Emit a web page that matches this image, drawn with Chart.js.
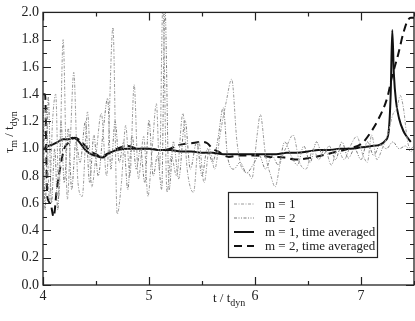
<!DOCTYPE html>
<html>
<head>
<meta charset="utf-8">
<script src="https://cdn.jsdelivr.net/npm/chart.js@4/dist/chart.umd.min.js"></script>
<style>
  html, body { margin: 0; padding: 0; background: #fff; }
  #wrap { width: 415px; height: 321px; }
</style>
</head>
<body>
<div id="wrap"><canvas id="tauchart"></canvas></div>
<script>
// values (t in units of t_dyn)
var tM1 = [4.00, 4.03, 4.06, 4.09, 4.12, 4.15, 4.19, 4.23, 4.26, 4.29, 4.33, 4.37, 4.42, 4.46, 4.50, 4.55, 4.60, 4.66, 4.70, 4.74,
  4.78, 4.82, 4.86, 4.90, 4.95, 4.99, 5.03, 5.07, 5.10, 5.13, 5.17, 5.21, 5.26, 5.32, 5.36, 5.42, 5.47, 5.52, 5.57, 5.62,
  5.67, 5.73, 5.78, 5.83, 5.88, 5.94, 5.97, 6.02, 6.05, 6.10, 6.15, 6.19, 6.24, 6.30, 6.36, 6.42, 6.48, 6.55, 6.60, 6.66,
  6.72, 6.78, 6.84, 6.90, 6.96, 7.02, 7.06, 7.10, 7.15, 7.20, 7.25, 7.30, 7.34, 7.37, 7.40, 7.44, 7.47, 7.50];
var vM1 = [0.80, 1.30, 0.62, 1.20, 1.40, 0.65, 1.80, 0.63, 1.10, 1.56, 0.75, 0.65, 1.27, 0.72, 0.95, 1.26, 0.80, 1.89, 0.52, 0.75,
  1.17, 0.80, 1.47, 0.78, 1.09, 0.65, 1.00, 1.33, 0.85, 2.05, 0.68, 0.95, 0.80, 1.26, 0.85, 0.68, 1.05, 0.75, 1.00, 0.85,
  1.10, 1.35, 1.51, 1.05, 0.85, 0.82, 0.78, 1.10, 1.25, 0.95, 0.80, 0.72, 0.90, 1.02, 1.10, 0.90, 0.85, 1.00, 0.92, 1.00,
  0.88, 1.00, 0.92, 1.02, 1.09, 0.95, 0.90, 1.10, 0.92, 1.00, 1.10, 1.25, 1.30, 1.39, 1.30, 1.05, 1.00, 1.02];

var tM2 = [4.00, 4.02, 4.05, 4.08, 4.11, 4.14, 4.17, 4.20, 4.24, 4.27, 4.31, 4.35, 4.40, 4.44, 4.48, 4.52, 4.57, 4.61, 4.64, 4.68,
  4.72, 4.76, 4.80, 4.84, 4.88, 4.92, 4.96, 5.00, 5.04, 5.08, 5.12, 5.15, 5.19, 5.23, 5.28, 5.34, 5.39, 5.45, 5.50, 5.55,
  5.60, 5.65, 5.70, 5.74, 5.80, 5.86, 5.92, 5.98, 6.04, 6.10, 6.16, 6.22, 6.28, 6.34, 6.40, 6.46, 6.52, 6.58, 6.64, 6.70,
  6.76, 6.82, 6.88, 6.94, 7.00, 7.06, 7.12, 7.18, 7.24, 7.30, 7.36, 7.42, 7.47, 7.50];
var vM2 = [1.35, 0.55, 1.38, 0.60, 1.00, 0.55, 1.20, 0.75, 1.15, 0.70, 1.05, 0.90, 1.20, 0.75, 1.10, 0.80, 1.15, 1.37, 0.85, 1.20,
  0.90, 1.05, 0.70, 1.10, 0.85, 1.00, 0.75, 1.21, 0.80, 0.95, 0.70, 2.05, 0.70, 1.05, 0.78, 1.21, 0.85, 1.05, 0.80, 1.00,
  0.90, 1.07, 1.30, 0.95, 0.85, 0.90, 0.82, 0.88, 0.95, 0.85, 0.95, 0.88, 1.05, 0.95, 0.88, 1.02, 0.90, 1.05, 0.95, 1.02,
  0.92, 1.05, 0.93, 1.00, 0.92, 1.05, 0.95, 1.03, 1.00, 1.05, 1.00, 1.02, 0.98, 1.00];

var tM1avg = [4.00, 4.05, 4.09, 4.14, 4.19, 4.24, 4.28, 4.33, 4.40, 4.45, 4.49, 4.56, 4.61, 4.66, 4.70, 4.80, 4.90, 5.00, 5.10, 5.20,
  5.30, 5.40, 5.50, 5.60, 5.70, 5.80, 5.90, 6.00, 6.10, 6.20, 6.30, 6.40, 6.50, 6.60, 6.70, 6.80, 6.90, 7.00, 7.10, 7.18,
  7.23, 7.26, 7.28, 7.295, 7.31, 7.33, 7.36, 7.40, 7.44, 7.47];
var vM1avg = [1.00, 1.02, 1.03, 1.05, 1.07, 1.07, 1.08, 1.06, 0.99, 0.96, 0.95, 0.935, 0.96, 0.98, 0.99, 1.00, 1.00, 1.00, 0.99, 0.99,
  0.98, 0.98, 0.97, 0.97, 0.96, 0.96, 0.96, 0.96, 0.96, 0.96, 0.97, 0.97, 0.98, 0.99, 0.99, 1.00, 1.00, 1.01, 1.02, 1.03,
  1.06, 1.12, 1.40, 1.87, 1.55, 1.35, 1.22, 1.13, 1.08, 1.05];

var tM2avg = [4.00, 4.02, 4.04, 4.07, 4.10, 4.13, 4.16, 4.20, 4.25, 4.30, 4.35, 4.40, 4.45, 4.50, 4.55, 4.60, 4.65, 4.70, 4.80, 4.90,
  5.00, 5.10, 5.20, 5.25, 5.30, 5.40, 5.50, 5.55, 5.60, 5.65, 5.75, 5.85, 6.00, 6.15, 6.28, 6.38, 6.50, 6.57, 6.73, 6.88,
  7.01, 7.10, 7.16, 7.25, 7.29, 7.35, 7.40, 7.44, 7.47, 7.50];
var vM2avg = [1.40, 1.40, 0.65, 0.60, 0.50, 0.70, 0.85, 1.00, 1.05, 1.08, 1.06, 1.02, 0.98, 0.96, 0.94, 0.96, 0.98, 1.00, 1.02, 1.00,
  1.00, 0.99, 1.00, 1.02, 1.03, 1.04, 1.05, 1.04, 1.00, 0.98, 0.94, 0.95, 0.95, 0.94, 0.935, 0.92, 0.93, 0.94, 0.97, 1.00,
  1.04, 1.13, 1.21, 1.38, 1.52, 1.69, 1.85, 1.94, 1.96, 1.96];

var yTicks = [0, 0.2, 0.4, 0.6, 0.8, 1.0, 1.2, 1.4, 1.6, 1.8, 2.0];
var xTicks = [4, 5, 6, 7];

function pts(ts, vs) {
  return ts.map((t, i) => ({x: t, y: vs[i]}));
}

const SERIF = '"Liberation Serif", "DejaVu Serif", serif';

// inward ticks on all four sides, frame, axis titles with subscripts, boxed legend
const decor = {
  id: 'decor',
  afterDraw(chart) {
    const ctx = chart.ctx;
    const a = chart.chartArea;
    const x = chart.scales.x, y = chart.scales.y;
    ctx.save();
    ctx.strokeStyle = '#222';
    ctx.lineWidth = 1.3;
    ctx.strokeRect(a.left, a.top, a.right - a.left, a.bottom - a.top);

    ctx.lineWidth = 1.2;
    ctx.beginPath();
    for (let i = 0; i <= 7; i++) {
      let v = 4 + i * 0.5;
      let px = Math.round(x.getPixelForValue(v)) + 0.5;
      let len = i % 2 == 0 ? 8 : 4;
      ctx.moveTo(px, a.bottom); ctx.lineTo(px, a.bottom - len);
      ctx.moveTo(px, a.top); ctx.lineTo(px, a.top + len);
    }
    for (let i = 0; i <= 20; i++) {
      let py = Math.round(y.getPixelForValue(i / 10)) + 0.5;
      let len = i % 2 == 0 ? 8 : 4;
      ctx.moveTo(a.left, py); ctx.lineTo(a.left + len, py);
      ctx.moveTo(a.right, py); ctx.lineTo(a.right - len, py);
    }
    ctx.stroke();

    // axis titles
    ctx.fillStyle = '#222';
    ctx.textBaseline = 'alphabetic';
    ctx.textAlign = 'left';
    ctx.font = '13px ' + SERIF;
    let s = 't / t';
    let w = ctx.measureText(s).width;
    ctx.fillText(s, 213, 302);
    ctx.font = '10px ' + SERIF;
    ctx.fillText('dyn', 213 + w, 306);

    ctx.save();
    ctx.translate(13, 153);
    ctx.rotate(-Math.PI / 2);
    ctx.font = '13px ' + SERIF;
    let cx = 0;
    ctx.fillText('\u03c4', cx, 0); cx += ctx.measureText('\u03c4').width;
    ctx.font = '10px ' + SERIF;
    ctx.fillText('m', cx, 4); cx += ctx.measureText('m').width;
    ctx.font = '13px ' + SERIF;
    ctx.fillText(' / t', cx, 0); cx += ctx.measureText(' / t').width;
    ctx.font = '10px ' + SERIF;
    ctx.fillText('dyn', cx, 4);
    ctx.restore();

    // legend box
    const bx = 228, by = 192, bw = 149, bh = 65;
    ctx.fillStyle = '#fff';
    ctx.fillRect(bx, by, bw, bh);
    ctx.strokeStyle = '#222';
    ctx.lineWidth = 1.2;
    ctx.strokeRect(bx + 0.5, by + 0.5, bw, bh);
    ctx.font = '13px ' + SERIF;
    ctx.textBaseline = 'middle';
    chart.data.datasets.forEach((ds, i) => {
      let ry = by + 12 + i * 14;
      ctx.strokeStyle = ds.borderColor;
      ctx.lineWidth = ds.borderWidth;
      ctx.setLineDash(ds.borderDash || []);
      ctx.beginPath();
      ctx.moveTo(234, ry); ctx.lineTo(254, ry);
      ctx.stroke();
      ctx.setLineDash([]);
      ctx.fillStyle = '#222';
      ctx.fillText(ds.label, 265, ry + 1);
    });
    ctx.restore();
  }
};

window.tauChart = new Chart(
  document.getElementById('tauchart'),
  {
    type: 'line',
    data: {
      datasets: [
        {
          label: 'm = 1',
          data: pts(tM1, vM1),
          borderColor: '#9a9a9a',
          borderWidth: 1,
          borderDash: [3, 1.5, 1, 1.5]
        },
        {
          label: 'm = 2',
          data: pts(tM2, vM2),
          borderColor: '#7a7a7a',
          borderWidth: 1,
          borderDash: [3, 1.5, 1, 1.5, 1, 1.5]
        },
        {
          label: 'm = 1, time averaged',
          data: pts(tM1avg, vM1avg),
          borderColor: '#111',
          borderWidth: 2
        },
        {
          label: 'm = 2, time averaged',
          data: pts(tM2avg, vM2avg),
          borderColor: '#111',
          borderWidth: 2,
          borderDash: [8, 5]
        }
      ]
    },
    options: {
      responsive: true,
      maintainAspectRatio: false,
      animation: false,
      devicePixelRatio: 1,
      layout: { padding: { top: 7, right: 1, left: 0, bottom: 0 } },
      elements: {
        point: { radius: 0 },
        line: { cubicInterpolationMode: 'monotone', fill: false }
      },
      plugins: {
        legend: { display: false },
        tooltip: { enabled: false }
      },
      scales: {
        x: {
          type: 'linear',
          min: 4,
          max: 7.5,
          afterBuildTicks: (s) => { s.ticks = xTicks.map(v => ({value: v})); },
          afterFit: (s) => { s.height = 36; },
          grid: { display: false, drawTicks: false },
          border: { display: false },
          ticks: {
            padding: 3,
            color: '#222',
            font: { family: SERIF, size: 14 },
            callback: (v) => String(v)
          }
        },
        y: {
          type: 'linear',
          min: 0,
          max: 2,
          afterBuildTicks: (s) => { s.ticks = yTicks.map(v => ({value: v})); },
          afterFit: (s) => { s.width = 43; },
          grid: { display: false, drawTicks: false },
          border: { display: false },
          ticks: {
            padding: 4,
            color: '#222',
            font: { family: SERIF, size: 14 },
            callback: (v) => Number(v).toFixed(1)
          }
        }
      }
    },
    plugins: [decor]
  }
);
</script>
</body>
</html>
